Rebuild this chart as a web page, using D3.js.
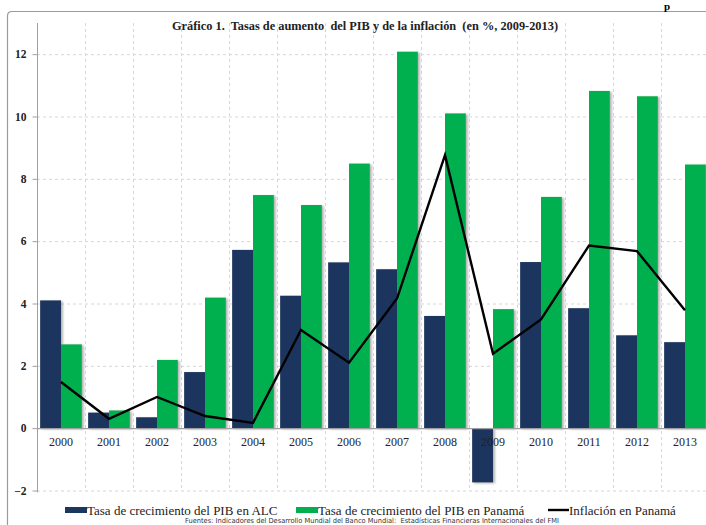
<!DOCTYPE html>
<html lang="es">
<head>
  <meta charset="UTF-8">
  <title>Gráfico 1. Tasas de aumento del PIB y de la inflación</title>
  <script src="https://d3js.org/d3.v7.min.js"></script>
  <style>
    body {
      margin: 0;
      background: #fff;
    }
    svg {
      display: block;
      font-family: 'Liberation Serif', 'Times New Roman', serif;
    }
    .grid line {
      stroke: #d6d6d6;
      stroke-dasharray: 3, 3;
    }
  </style>
</head>
<body>
<svg width="706" height="525"></svg>
<script>
  // data
  const years = ["2000", "2001", "2002", "2003", "2004", "2005", "2006",
                 "2007", "2008", "2009", "2010", "2011", "2012", "2013"];
  const pibALC = [4.1, 0.5, 0.35, 1.8, 5.72, 4.25, 5.32, 5.1, 3.6, -1.74, 5.33, 3.85, 2.98, 2.76];
  const pibPanama = [2.69, 0.57, 2.19, 4.19, 7.48, 7.16, 8.49, 12.08, 10.1, 3.82, 7.42, 10.82, 10.65, 8.46];
  const inflPanama = [1.48, 0.3, 1.0, 0.39, 0.17, 3.15, 2.1, 4.16, 8.76, 2.39, 3.49, 5.86, 5.68, 3.78];
  const yTicks = [-2, 0, 2, 4, 6, 8, 10, 12];

  const seriesNames = ["Tasa de crecimiento del PIB en ALC", "Tasa de crecimiento del PIB en Panamá", "Inflación en Panamá"];
  const colors = ["#1b365f", "#00b04f", "#000"];

  const svg = d3.select("svg");

  const x = d3.scaleBand().domain(years).range([37, 709]).padding(0);
  const xInner = d3.scaleBand().domain([0, 1]).range([0, x.bandwidth()]).paddingOuter(0.15).paddingInner(0);
  const y = d3.scaleLinear().domain([-2, 13]).range([490.5, 23]);

  const defs = svg.append("defs");
  defs.append("filter")
    .attr("id", "shadow")
    .attr("x", "-20%").attr("y", "-5%").attr("width", "150%").attr("height", "115%")
    .append("feDropShadow")
    .attr("dx", 2).attr("dy", 1).attr("stdDeviation", 1)
    .attr("flood-color", "#777").attr("flood-opacity", 0.55);

  // frame of the figure
  svg.append("path")
    .attr("d", "M7.5,525 L7.5,16 Q7.5,11.5 12,11.5 L706,11.5")
    .attr("fill", "none")
    .attr("stroke", "#9a9a9a")
    .attr("stroke-width", 1.2);

  // piece of the surrounding page text
  svg.append("text")
    .attr("x", 664).attr("y", 10)
    .attr("font-size", 11).attr("font-weight", "bold")
    .text("p");

  // grid
  const grid = svg.append("g").attr("class", "grid");
  grid.selectAll(".h")
    .data(yTicks.filter(d => d !== 0))
    .join("line")
    .attr("x1", 37).attr("x2", 709)
    .attr("y1", d => y(d) + 0.5).attr("y2", d => y(d) + 0.5);
  grid.selectAll(".v")
    .data(years.slice(1).concat(["end"]))
    .join("line")
    .attr("x1", (d, i) => 37 + (i + 1) * x.bandwidth() + 0.5)
    .attr("x2", (d, i) => 37 + (i + 1) * x.bandwidth() + 0.5)
    .attr("y1", y(13)).attr("y2", y(-2));

  // y axis
  const yAxis = svg.append("g")
    .attr("transform", "translate(37.5,0)")
    .call(d3.axisLeft(y).tickValues(yTicks).tickSize(5).tickPadding(6).tickFormat(d3.format("d")));
  yAxis.select(".domain").attr("d", `M0,${y(13)}V${y(-2) + 2}`).attr("stroke", "#a0a0a0");
  yAxis.selectAll(".tick line").attr("stroke", "#a0a0a0");
  yAxis.selectAll(".tick text")
    .attr("font-family", "'Liberation Serif', serif")
    .attr("font-size", 11.5)
    .attr("font-weight", "bold")
    .attr("fill", "#222");

  // bars
  const bars = svg.append("g").attr("filter", "url(#shadow)");
  [pibALC, pibPanama].forEach((vals, s) => {
    bars.selectAll(".s" + s)
      .data(vals)
      .join("rect")
      .attr("x", (d, i) => x(years[i]) + xInner(s))
      .attr("width", xInner.bandwidth())
      .attr("y", d => y(Math.max(0, d)))
      .attr("height", d => Math.abs(y(d) - y(0)))
      .attr("fill", colors[s]);
  });

  // zero line
  svg.append("line")
    .attr("x1", 37).attr("x2", 709)
    .attr("y1", y(0) + 0.5).attr("y2", y(0) + 0.5)
    .attr("stroke", "#a0a0a0").attr("stroke-width", 1.2);

  // x labels
  svg.append("g")
    .selectAll("text")
    .data(years)
    .join("text")
    .attr("x", d => x(d) + x.bandwidth() / 2)
    .attr("y", y(0) + 18)
    .attr("text-anchor", "middle")
    .attr("font-size", 12)
    .attr("fill", "#222")
    .text(d => d);

  // inflation line
  svg.append("path")
    .datum(inflPanama)
    .attr("fill", "none")
    .attr("stroke", colors[2])
    .attr("stroke-width", 2.4)
    .attr("stroke-linejoin", "miter")
    .attr("d", d3.line()
      .x((d, i) => x(years[i]) + x.bandwidth() / 2)
      .y(d => y(d)));

  // title
  svg.append("text")
    .attr("x", 365).attr("y", 30)
    .attr("text-anchor", "middle")
    .attr("font-size", 12.5)
    .attr("font-weight", "bold")
    .attr("fill", "#222")
    .attr("textLength", 386)
    .attr("lengthAdjust", "spacingAndGlyphs")
    .style("white-space", "pre")
    .text("Gráfico 1.  Tasas de aumento  del PIB y de la inflación  (en %, 2009-2013)");

  // legend
  const legendX = [65, 296, 548];
  const legend = svg.append("g").attr("transform", "translate(0,512)");
  seriesNames.forEach((name, i) => {
    const g = legend.append("g").attr("transform", `translate(${legendX[i]},0)`);
    if (i < 2) {
      g.append("rect").attr("x", 0).attr("y", -5).attr("width", 22).attr("height", 6).attr("fill", colors[i]);
    } else {
      g.append("line").attr("x1", 0).attr("x2", 21).attr("y1", -2).attr("y2", -2)
        .attr("stroke", colors[i]).attr("stroke-width", 2.4);
    }
    g.append("text")
      .attr("x", i < 2 ? 22 : 21).attr("y", 3)
      .attr("font-size", 13)
      .attr("fill", "#222")
      .text(name);
  });

  // source
  svg.append("text")
    .attr("x", 372).attr("y", 523)
    .attr("text-anchor", "middle")
    .attr("font-family", "'DejaVu Sans', sans-serif")
    .attr("font-size", 7)
    .attr("fill", "#333")
    .attr("textLength", 374)
    .attr("lengthAdjust", "spacingAndGlyphs")
    .style("white-space", "pre")
    .text("Fuentes: Indicadores del Desarrollo Mundial del Banco Mundial:  Estadísticas Financieras Internacionales del FMI");
</script>
</body>
</html>
